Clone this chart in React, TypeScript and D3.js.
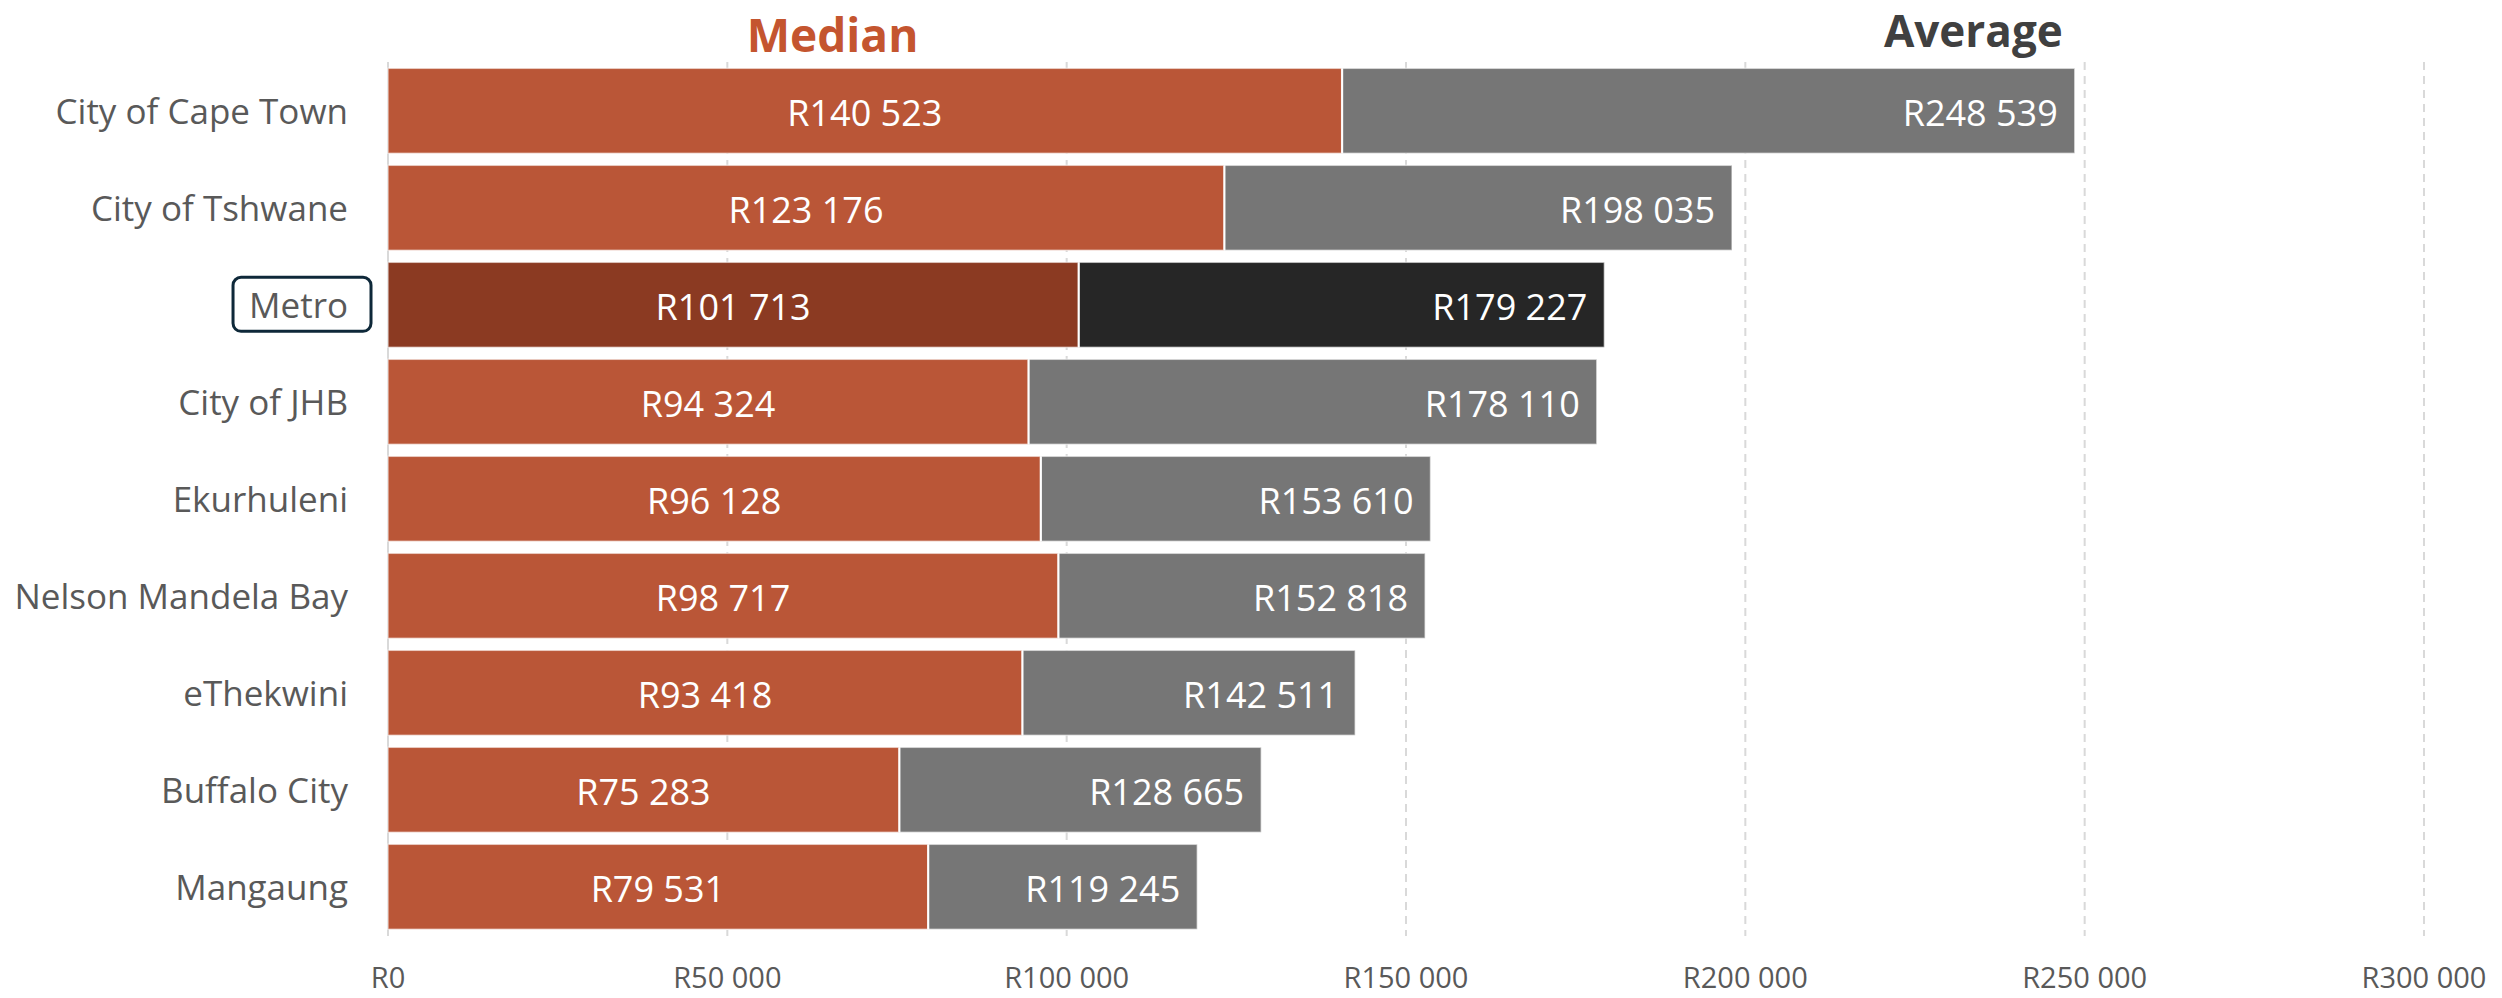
import React, { useEffect, useRef } from "react";
import * as d3 from "d3";

const categories = [
  "City of Cape Town",
  "City of Tshwane",
  "Metro",
  "City of JHB",
  "Ekurhuleni",
  "Nelson Mandela Bay",
  "eThekwini",
  "Buffalo City",
  "Mangaung",
];
const medianValues = [140523, 123176, 101713, 94324, 96128, 98717, 93418, 75283, 79531];
const averageValues = [248539, 198035, 179227, 178110, 153610, 152818, 142511, 128665, 119245];
const xTicks = [0, 50000, 100000, 150000, 200000, 250000, 300000];
const highlight = "Metro";

const W = 2502;
const H = 998;
const FONT = "'Open Sans', 'Noto Sans', sans-serif";

const locale = d3.formatLocale({ decimal: ".", thousands: " ", grouping: [3], currency: ["R", ""] });
const fmt = (v: number) => "R" + locale.format(",")(v);

export default function App() {
  const ref = useRef<SVGSVGElement | null>(null);

  useEffect(() => {
    document.body.style.margin = "0";
    const svg = d3.select(ref.current);
    svg.selectAll("*").remove();

    const x = d3.scaleLinear().domain([0, 300000]).range([388, 2424]);
    const y = d3
      .scaleBand<string>()
      .domain(categories)
      .range([62.3, 935.3])
      .paddingInner(0.1237)
      .paddingOuter(0.0619);

    const gridTop = 62;
    const gridBottom = 936;

    // gridlines
    const grid = svg.append("g");
    grid
      .selectAll("line")
      .data(xTicks.filter((t) => t > 0))
      .join("line")
      .attr("x1", (d) => x(d))
      .attr("x2", (d) => x(d))
      .attr("y1", gridTop)
      .attr("y2", gridBottom)
      .attr("stroke", "#D9D9D9")
      .attr("stroke-width", 2)
      .attr("stroke-dasharray", "8 6");

    // axis line
    svg
      .append("line")
      .attr("x1", x(0))
      .attr("x2", x(0))
      .attr("y1", gridTop)
      .attr("y2", gridBottom)
      .attr("stroke", "#D9D9D9")
      .attr("stroke-width", 2);

    const rows = categories.map((c, i) => ({ c, m: medianValues[i], a: averageValues[i] }));

    // average bars (from median to average)
    svg
      .append("g")
      .selectAll("rect")
      .data(rows)
      .join("rect")
      .attr("x", (d) => x(d.m))
      .attr("y", (d) => y(d.c)!)
      .attr("width", (d) => x(d.a) - x(d.m))
      .attr("height", y.bandwidth())
      .attr("fill", (d) => (d.c === highlight ? "#262626" : "#767676"))
      .attr("stroke", "#ffffff")
      .attr("stroke-opacity", 0.55)
      .attr("stroke-width", 1.5);

    // median bars
    svg
      .append("g")
      .selectAll("rect")
      .data(rows)
      .join("rect")
      .attr("x", x(0))
      .attr("y", (d) => y(d.c)!)
      .attr("width", (d) => x(d.m) - x(0))
      .attr("height", y.bandwidth())
      .attr("fill", (d) => (d.c === highlight ? "#8B3A22" : "#BA5637"))
      .attr("stroke", "#ffffff")
      .attr("stroke-opacity", 0.55)
      .attr("stroke-width", 1.5);

    // separators between median and average
    svg
      .append("g")
      .selectAll("line")
      .data(rows)
      .join("line")
      .attr("x1", (d) => x(d.m) + 0.5)
      .attr("x2", (d) => x(d.m) + 0.5)
      .attr("y1", (d) => y(d.c)!)
      .attr("y2", (d) => y(d.c)! + y.bandwidth())
      .attr("stroke", "#ffffff")
      .attr("stroke-width", 2);

    // median labels
    svg
      .append("g")
      .selectAll("text")
      .data(rows)
      .join("text")
      .attr("x", (d) => (x(0) + x(d.m)) / 2)
      .attr("y", (d) => y(d.c)! + y.bandwidth() / 2 + 15)
      .attr("text-anchor", "middle")
      .attr("fill", "#ffffff")
      .attr("font-family", FONT)
      .attr("font-size", 36)
      .text((d) => fmt(d.m));

    // average labels
    svg
      .append("g")
      .selectAll("text")
      .data(rows)
      .join("text")
      .attr("x", (d) => x(d.a) - 17)
      .attr("y", (d) => y(d.c)! + y.bandwidth() / 2 + 15)
      .attr("text-anchor", "end")
      .attr("fill", "#ffffff")
      .attr("font-family", FONT)
      .attr("font-size", 36)
      .text((d) => fmt(d.a));

    // category labels
    const catG = svg.append("g");
    const labels = catG
      .selectAll("text")
      .data(categories)
      .join("text")
      .attr("x", 348)
      .attr("y", (d) => y(d)! + y.bandwidth() / 2 + 13)
      .attr("text-anchor", "end")
      .attr("fill", "#595959")
      .attr("font-family", FONT)
      .attr("font-size", 35)
      .text((d) => d);

    labels
      .filter((d) => d === highlight)
      .each(function () {
        const bb = (this as SVGTextElement).getBBox();
        catG
          .insert("rect", "text")
          .attr("x", bb.x - 16)
          .attr("y", y(highlight)! + y.bandwidth() / 2 - 27.5)
          .attr("width", bb.width + 39)
          .attr("height", 54)
          .attr("rx", 8)
          .attr("fill", "#ffffff")
          .attr("stroke", "#0E2839")
          .attr("stroke-width", 3);
      });

    // x tick labels
    svg
      .append("g")
      .selectAll("text")
      .data(xTicks)
      .join("text")
      .attr("x", (d) => x(d))
      .attr("y", 988)
      .attr("text-anchor", "middle")
      .attr("fill", "#595959")
      .attr("font-family", FONT)
      .attr("font-size", 29)
      .text((d) => fmt(d));

    // titles
    svg
      .append("text")
      .attr("x", x(65500))
      .attr("y", 51.7)
      .attr("text-anchor", "middle")
      .attr("fill", "#C4552F")
      .attr("font-family", FONT)
      .attr("font-weight", 700)
      .attr("font-size", 46)
      .text("Median");

    svg
      .append("text")
      .attr("x", x(averageValues[0]) - 12)
      .attr("y", 47)
      .attr("text-anchor", "end")
      .attr("fill", "#404040")
      .attr("font-family", FONT)
      .attr("font-weight", 700)
      .attr("font-size", 44)
      .text("Average");
  }, []);

  return <svg ref={ref} width={W} height={H} style={{ display: "block", background: "#ffffff" }} />;
}
